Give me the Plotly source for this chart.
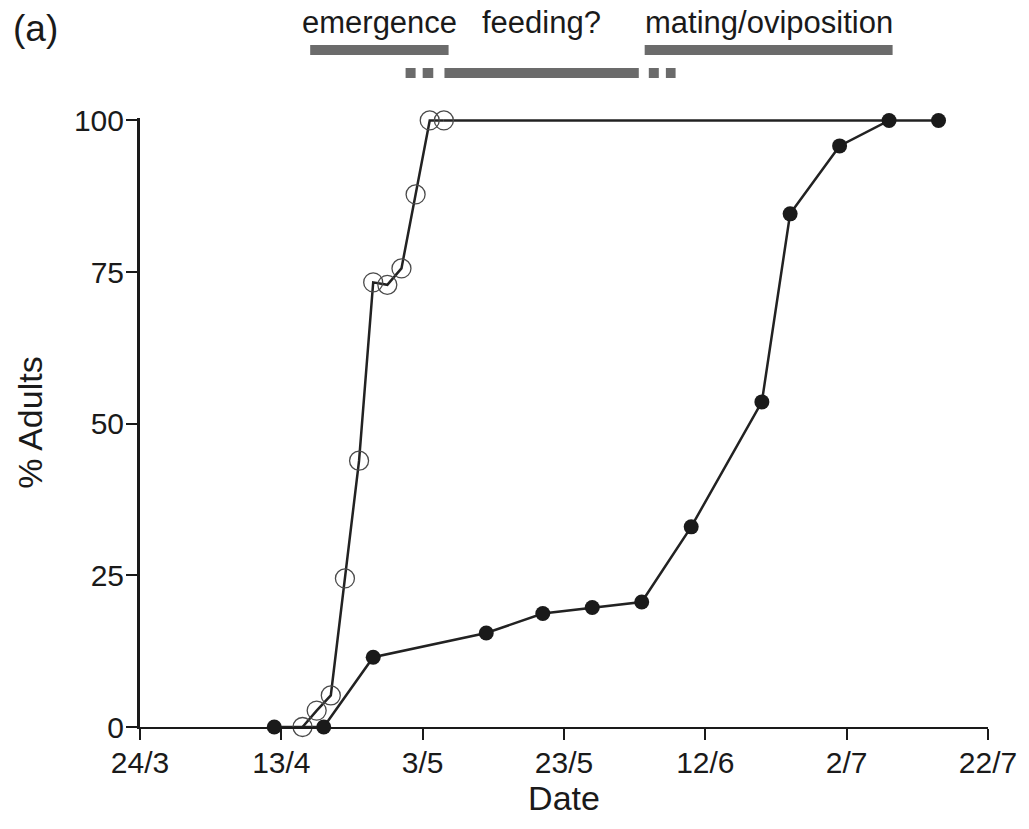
import plotly.graph_objects as go
import pandas as pd

# ---- data ----
open_dates = ['2001-04-16', '2001-04-18', '2001-04-20', '2001-04-22', '2001-04-24',
              '2001-04-26', '2001-04-28', '2001-04-30', '2001-05-02', '2001-05-04', '2001-05-06']
open_vals = [0, 2.7, 5.2, 24.5, 43.9, 73.3, 72.9, 75.6, 87.8, 100, 100]
open_tail_dates = ['2001-05-06', '2001-07-08']
open_tail_vals = [100, 100]

filled_dates = ['2001-04-12', '2001-04-19', '2001-04-26', '2001-05-12', '2001-05-20',
                '2001-05-27', '2001-06-03', '2001-06-10', '2001-06-20', '2001-06-24',
                '2001-07-01', '2001-07-08', '2001-07-15']
filled_vals = [0, 0, 11.5, 15.5, 18.7, 19.7, 20.6, 33.0, 53.6, 84.6, 95.8, 100, 100]

tick_dates = ['2001-03-24', '2001-04-13', '2001-05-03', '2001-05-23', '2001-06-12', '2001-07-02', '2001-07-22']
tick_labels = ['24/3', '13/4', '3/5', '23/5', '12/6', '2/7', '22/7']
y_ticks = [0, 25, 50, 75, 100]

# activity periods (date ranges)
emergence_range = ('2001-04-17 02:00', '2001-05-06 16:00')
mating_range = ('2001-06-03 10:00', '2001-07-08 12:00')
feeding_range = ('2001-05-06 02:00', '2001-06-02 14:00')
feeding_uncertain = [('2001-04-30 14:00', '2001-05-02 00:00'),
                     ('2001-05-03 00:00', '2001-05-04 12:00'),
                     ('2001-06-04 00:00', '2001-06-05 10:00'),
                     ('2001-06-06 10:00', '2001-06-07 19:00')]
period_labels = ['emergence', 'feeding?', 'mating/oviposition']

FONT = 'Liberation Sans, Arial, sans-serif'
BAR_COLOR = '#6b6b6b'
INK = '#1a1a1a'

fig = go.Figure()

fig.add_trace(go.Scatter(x=open_tail_dates, y=open_tail_vals, mode='lines',
                         line=dict(color='#222222', width=2.5), cliponaxis=False,
                         showlegend=False, hoverinfo='skip'))
fig.add_trace(go.Scatter(x=filled_dates, y=filled_vals, mode='lines+markers',
                         line=dict(color='#222222', width=2.5),
                         marker=dict(symbol='circle', size=15, color=INK),
                         cliponaxis=False, showlegend=False))
fig.add_trace(go.Scatter(x=open_dates, y=open_vals, mode='lines+markers',
                         line=dict(color='#222222', width=2.5),
                         marker=dict(symbol='circle-open', size=19, color='#4a4a4a',
                                     line=dict(width=1.3)),
                         cliponaxis=False, showlegend=False))

# period bars above the plot (paper coords; plot area spans 609 px)
TOP_Y = (1.1034, 1.1199)
LOW_Y = (1.0657, 1.0821)
for (a, b), yy in [(emergence_range, TOP_Y), (mating_range, TOP_Y), (feeding_range, LOW_Y)] + \
        [(r, LOW_Y) for r in feeding_uncertain]:
    fig.add_shape(type='rect', xref='x', yref='paper', x0=a, x1=b, y0=yy[0], y1=yy[1],
                  fillcolor=BAR_COLOR, line=dict(width=0), layer='above')


def mid(r):
    t0, t1 = pd.Timestamp(r[0]), pd.Timestamp(r[1])
    return (t0 + (t1 - t0) / 2).strftime('%Y-%m-%d %H:%M')


for r, lab in zip([emergence_range, feeding_range, mating_range], period_labels):
    fig.add_annotation(x=mid(r), y=1.156, xref='x', yref='paper', text=lab,
                       showarrow=False, font=dict(size=31, color=INK, family=FONT),
                       xanchor='center', yanchor='middle')

fig.add_annotation(x=-0.152, y=1.147, xref='paper', yref='paper', text='(a)', showarrow=False,
                   xanchor='left', yanchor='middle',
                   font=dict(size=37, color=INK, family=FONT))

fig.update_layout(
    width=1029, height=829,
    margin=dict(l=140, r=36, t=118, b=102),
    paper_bgcolor='white', plot_bgcolor='white',
    font=dict(family=FONT, size=30, color=INK),
    xaxis=dict(type='date', range=['2001-03-24', '2001-07-22'],
               tickvals=tick_dates, ticktext=tick_labels,
               showline=True, linecolor=INK, linewidth=2,
               ticks='outside', ticklen=11, tickwidth=2, tickcolor=INK,
               ticklabelstandoff=-3,
               showgrid=False, zeroline=False,
               title=dict(text='Date', font=dict(size=34), standoff=8)),
    yaxis=dict(range=[0, 100.4], tickvals=y_ticks,
               showline=True, linecolor=INK, linewidth=3,
               ticks='outside', ticklen=11, tickwidth=2, tickcolor=INK,
               ticklabelstandoff=-4,
               showgrid=False, zeroline=False,
               title=dict(text='% Adults', font=dict(size=34), standoff=22)),
)

fig.write_html('out.html')
